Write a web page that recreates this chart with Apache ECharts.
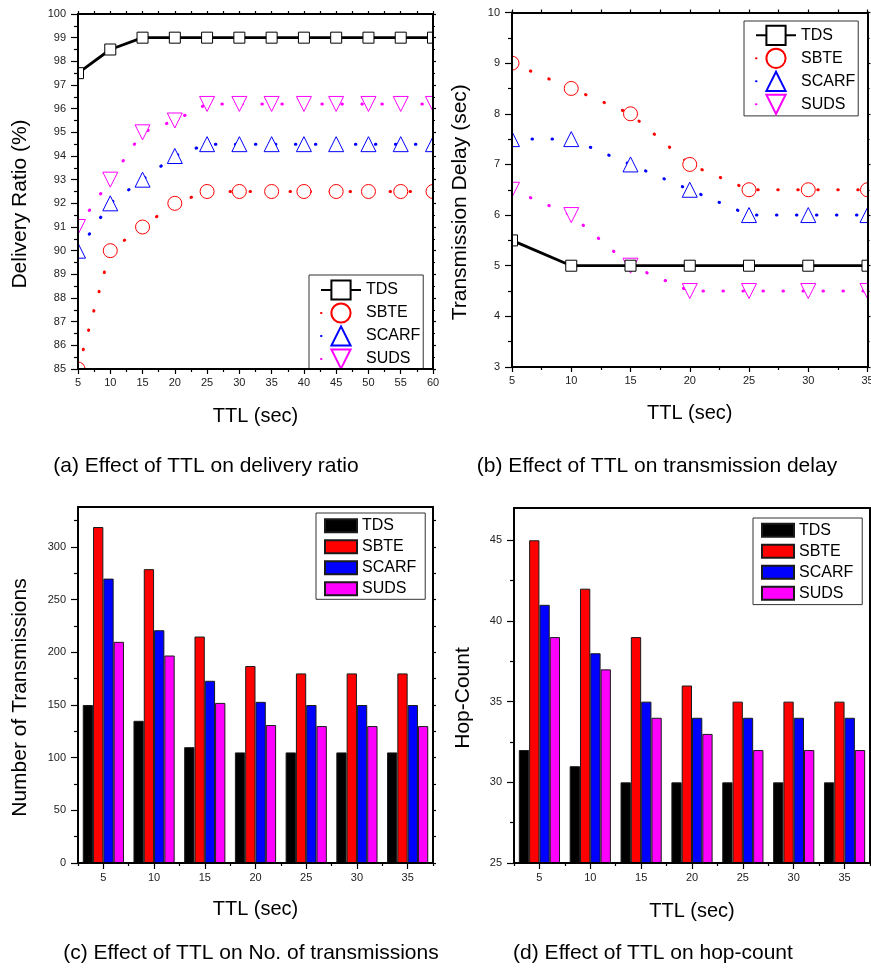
<!DOCTYPE html>
<html>
<head>
<meta charset="utf-8">
<script src="https://cdn.jsdelivr.net/npm/echarts@6/dist/echarts.min.js"></script>
<style>
  html, body { margin: 0; padding: 0; background: #fff; }
  #chart { width: 871px; height: 978px; }
</style>
</head>
<body>
<div id="chart"></div>
<script>
// Schemes compared in every panel
const schemeNames = ['TDS', 'SBTE', 'SCARF', 'SUDS'];
const schemeColors = ['#000000', '#ff0000', '#0000ff', '#ff00ff'];

// (a) delivery ratio (%) against TTL
const ttlA = [5, 10, 15, 20, 25, 30, 35, 40, 45, 50, 55, 60];
const ratioTDS = [97.5, 98.5, 99, 99, 99, 99, 99, 99, 99, 99, 99, 99];
const ratioSBTE = [85, 90, 91, 92, 92.5, 92.5, 92.5, 92.5, 92.5, 92.5, 92.5, 92.5];
const ratioSCARF = [90, 92, 93, 94, 94.5, 94.5, 94.5, 94.5, 94.5, 94.5, 94.5, 94.5];
const ratioSUDS = [91, 93, 95, 95.5, 96.2, 96.2, 96.2, 96.2, 96.2, 96.2, 96.2, 96.2];
const ratioAxis = [85, 100, 1];
const ttlAxisA = [5, 60, 5];

// (b) transmission delay (sec) against TTL
const ttlB = [5, 10, 15, 20, 25, 30, 35];
const delayTDS = [5.5, 5, 5, 5, 5, 5, 5];
const delaySBTE = [9, 8.5, 8, 7, 6.5, 6.5, 6.5];
const delaySCARF = [7.5, 7.5, 7, 6.5, 6, 6, 6];
const delaySUDS = [6.5, 6, 5, 4.5, 4.5, 4.5, 4.5];
const delayAxis = [3, 10, 1];
const ttlAxisB = [5, 35, 5];

// (c) number of transmissions per TTL
const ttlCategories = ['5', '10', '15', '20', '25', '30', '35'];
const txTDS = [150, 135, 110, 105, 105, 105, 105];
const txSBTE = [319, 279, 215, 187, 180, 180, 180];
const txSCARF = [270, 221, 173, 153, 150, 150, 150];
const txSUDS = [210, 197, 152, 131, 130, 130, 130];
const txTicks = [0, 50, 100, 150, 200, 250, 300];
const txMinorTicks = [25, 75, 125, 175, 225, 275, 325];
const txMax = 338;

// (d) hop-count per TTL
const hopTDS = [32, 31, 30, 30, 30, 30, 30];
const hopSBTE = [45, 42, 39, 36, 35, 35, 35];
const hopSCARF = [41, 38, 35, 34, 34, 34, 34];
const hopSUDS = [39, 37, 34, 33, 32, 32, 32];
const hopTicks = [25, 30, 35, 40, 45];
const hopMinorTicks = [27.5, 32.5, 37.5, 42.5];
const hopMax = 47;

const captions = [
  '(a) Effect of TTL on delivery ratio',
  '(b) Effect of TTL on transmission delay',
  '(c) Effect of TTL on No. of transmissions',
  '(d) Effect of TTL on hop-count'
];

const FONT = '"Liberation Sans", Arial, Helvetica, sans-serif';
const INK = '#000000';
const LABEL = '#222222';
const AXIS_Z = 20;

const gridBoxes = [
  { left: 78, top: 14, width: 355, height: 355 },
  { left: 512, top: 12.5, width: 355.5, height: 354.5 },
  { left: 78, top: 507, width: 355, height: 356 },
  { left: 514, top: 508, width: 356, height: 355 }
];
const grids = gridBoxes.map(g => Object.assign({ containLabel: false, outerBoundsMode: 'none' }, g));

const tickStyle = { color: INK, width: 1.2 };
const lineAxis = { show: true, onZero: false, lineStyle: { color: INK, width: 2 } };
const nameStyle = { fontSize: 20, color: INK, fontFamily: FONT };
const yNameStyle = { fontSize: 21, color: INK, fontFamily: FONT, padding: [0, 25, 0, 0] };
const tickLabel = { fontSize: 11, color: LABEL, fontFamily: FONT };

// value x axis for the TTL line panels (bottom one carries labels, top one mirrors ticks)
function ttlValueAxis(gridIndex, rng, bottom, nameGap) {
  return {
    type: 'value', gridIndex, position: bottom ? 'bottom' : 'top', z: AXIS_Z,
    min: rng[0], max: rng[1], interval: rng[2],
    axisLine: lineAxis,
    axisTick: { show: true, inside: false, length: bottom ? 5 : 3, lineStyle: tickStyle },
    minorTick: { show: true, splitNumber: 2, length: 3, lineStyle: tickStyle },
    axisLabel: Object.assign({ show: bottom, margin: 8 }, tickLabel),
    splitLine: { show: false }, minorSplitLine: { show: false },
    name: bottom ? 'TTL (sec)' : '', nameLocation: 'middle', nameGap,
    nameTextStyle: nameStyle
  };
}

// value y axis for the line panels (left carries labels, right mirrors ticks)
function lineValueY(gridIndex, rng, left, name, nameGap) {
  return {
    type: 'value', gridIndex, position: left ? 'left' : 'right', z: AXIS_Z,
    min: rng[0], max: rng[1], interval: rng[2],
    axisLine: lineAxis,
    axisTick: { show: true, inside: false, length: left ? 7 : 3, lineStyle: tickStyle },
    minorTick: { show: true, splitNumber: 2, length: left ? 4 : 2, lineStyle: tickStyle },
    axisLabel: Object.assign({ show: left, margin: 12 }, tickLabel),
    splitLine: { show: false }, minorSplitLine: { show: false },
    name: left ? name : '', nameLocation: 'middle', nameGap,
    nameTextStyle: yNameStyle
  };
}

// category axes for the bar panels
function categoryAxes(gridIndex, nameGap) {
  return [
    {
      type: 'category', gridIndex, position: 'bottom', data: ttlCategories, z: AXIS_Z,
      axisLine: lineAxis,
      axisTick: { show: true, alignWithLabel: true, interval: 0, length: 6, lineStyle: tickStyle },
      axisLabel: Object.assign({ show: true, margin: 9, interval: 0 }, tickLabel),
      splitLine: { show: false },
      name: 'TTL (sec)', nameLocation: 'middle', nameGap, nameTextStyle: nameStyle
    },
    {
      type: 'category', gridIndex, position: 'bottom', data: ttlCategories, z: AXIS_Z,
      axisLine: { show: false },
      axisTick: { show: true, interval: 0, length: 3, lineStyle: tickStyle },
      axisLabel: { show: false }, splitLine: { show: false }
    },
    {
      type: 'category', gridIndex, position: 'top', data: ttlCategories, z: AXIS_Z,
      axisLine: lineAxis, axisTick: { show: false },
      axisLabel: { show: false }, splitLine: { show: false }
    }
  ];
}

function barValueAxes(gridIndex, min, max, ticks, minorTicks, name, nameGap) {
  const allTicks = ticks.concat(minorTicks).filter(v => v <= max);
  const minorInRange = minorTicks.filter(v => v <= max);
  return [
    {
      type: 'value', gridIndex, position: 'left', min, max, z: AXIS_Z,
      axisLine: lineAxis,
      axisTick: { show: true, length: 7, customValues: ticks, lineStyle: tickStyle },
      axisLabel: Object.assign({ show: true, margin: 12, customValues: ticks }, tickLabel),
      splitLine: { show: false },
      name, nameLocation: 'middle', nameGap, nameTextStyle: yNameStyle
    },
    {
      type: 'value', gridIndex, position: 'left', min, max, z: AXIS_Z,
      axisLine: { show: false },
      axisTick: { show: true, length: 4, customValues: minorInRange, lineStyle: tickStyle },
      axisLabel: { show: false }, splitLine: { show: false }
    },
    {
      type: 'value', gridIndex, position: 'right', min, max, z: AXIS_Z,
      axisLine: lineAxis,
      axisTick: { show: true, length: 3, customValues: allTicks, lineStyle: tickStyle },
      axisLabel: { show: false }, splitLine: { show: false }
    }
  ];
}

const xAxes = [
  ttlValueAxis(0, ttlAxisA, true, 37), ttlValueAxis(0, ttlAxisA, false, 0),
  ttlValueAxis(1, ttlAxisB, true, 36), ttlValueAxis(1, ttlAxisB, false, 0),
  ...categoryAxes(2, 36),
  ...categoryAxes(3, 38)
];
const yAxes = [
  lineValueY(0, ratioAxis, true, 'Delivery Ratio (%)', 47), lineValueY(0, ratioAxis, false, '', 0),
  lineValueY(1, delayAxis, true, 'Transmission Delay (sec)', 41), lineValueY(1, delayAxis, false, '', 0),
  ...barValueAxes(2, 0, txMax, txTicks, txMinorTicks, 'Number of Transmissions', 47),
  ...barValueAxes(3, 25, hopMax, hopTicks, hopMinorTicks, 'Hop-Count', 40)
];

// marker + line look for each scheme in the line panels
const markerLook = [
  { symbol: 'rect', size: 11, rotate: 0 },
  { symbol: 'circle', size: 14, rotate: 0 },
  { symbol: 'triangle', size: 15, rotate: 0 },
  { symbol: 'triangle', size: 15, rotate: 180 }
];

function lineSeries(prefix, idx, xs, ys, xAxisIndex, yAxisIndex) {
  const solid = idx === 0;
  return {
    type: 'line', name: prefix + ':' + schemeNames[idx],
    xAxisIndex, yAxisIndex,
    data: xs.map((x, i) => [x, ys[i]]),
    symbol: markerLook[idx].symbol, symbolSize: markerLook[idx].size,
    symbolRotate: markerLook[idx].rotate, showSymbol: true, showAllSymbol: true,
    itemStyle: { color: '#ffffff', borderColor: schemeColors[idx], borderWidth: 1 },
    lineStyle: solid
      ? { color: schemeColors[idx], width: 2.8, type: 'solid' }
      : { color: schemeColors[idx], width: 3, type: [0.5, 19.5], cap: 'round' },
    emphasis: { disabled: true }, silent: true, z: 3 + (3 - idx)
  };
}

function barSeries(prefix, idx, values, xAxisIndex, yAxisIndex) {
  return {
    type: 'bar', name: prefix + ':' + schemeNames[idx],
    xAxisIndex, yAxisIndex, data: values,
    barWidth: 10.3, barGap: '0%',
    itemStyle: { color: schemeColors[idx], borderColor: '#1a1a1a', borderWidth: 1 },
    emphasis: { disabled: true }, silent: true
  };
}

const series = [
  lineSeries('a', 0, ttlA, ratioTDS, 0, 0),
  lineSeries('a', 1, ttlA, ratioSBTE, 0, 0),
  lineSeries('a', 2, ttlA, ratioSCARF, 0, 0),
  lineSeries('a', 3, ttlA, ratioSUDS, 0, 0),
  lineSeries('b', 0, ttlB, delayTDS, 2, 2),
  lineSeries('b', 1, ttlB, delaySBTE, 2, 2),
  lineSeries('b', 2, ttlB, delaySCARF, 2, 2),
  lineSeries('b', 3, ttlB, delaySUDS, 2, 2),
  barSeries('c', 0, txTDS, 4, 4),
  barSeries('c', 1, txSBTE, 4, 4),
  barSeries('c', 2, txSCARF, 4, 4),
  barSeries('c', 3, txSUDS, 4, 4),
  barSeries('d', 0, hopTDS, 7, 7),
  barSeries('d', 1, hopSBTE, 7, 7),
  barSeries('d', 2, hopSCARF, 7, 7),
  barSeries('d', 3, hopSUDS, 7, 7)
];

function legendBox(prefix, left, top, isBar, padding) {
  const base = {
    show: true, orient: 'vertical', left, top, padding,
    data: schemeNames.map(n => prefix + ':' + n),
    formatter: name => name.split(':')[1],
    backgroundColor: '#ffffff', borderColor: '#333333', borderWidth: 1,
    selectedMode: false,
    textStyle: { fontSize: 16, lineHeight: 16, color: INK, fontFamily: FONT }
  };
  if (isBar) {
    return Object.assign(base, { icon: 'rect', itemWidth: 32, itemHeight: 13, itemGap: 5 });
  }
  return Object.assign(base, { itemWidth: 40, itemHeight: 24, itemGap: 1.8 });
}

// white bands just outside the two line-plot frames, so markers sitting on the
// frame are cut at the frame edge; axes are drawn above them
function edgeMasks(box) {
  const l = box.left, t = box.top, r = box.left + box.width, b = box.top + box.height;
  const pad = 14;
  return [
    [l - pad, t - pad, pad, box.height + 2 * pad],
    [r, t - pad, pad, box.height + 2 * pad],
    [l - pad, t - pad, box.width + 2 * pad, pad],
    [l - pad, b, box.width + 2 * pad, pad]
  ].map(([x, y, w, h]) => ({
    type: 'rect', silent: true, z: 10,
    shape: { x, y, width: w, height: h },
    style: { fill: '#ffffff' }
  }));
}

const captionPlaces = [[206, 466], [657, 466], [251, 953], [653, 953]];

const option = {
  animation: false,
  backgroundColor: '#ffffff',
  textStyle: { fontFamily: FONT },
  grid: grids,
  xAxis: xAxes,
  yAxis: yAxes,
  legend: [
    legendBox('a', 309, 275, false, [4.4, 3, 2.4, 11]),
    legendBox('b', 744, 21, false, [3.7, 3, 1, 11]),
    legendBox('c', 316, 513, true, [4.7, 9, 2.6, 8]),
    legendBox('d', 753, 518, true, [4.3, 9, 3.3, 8])
  ],
  series,
  graphic: [
    ...edgeMasks(gridBoxes[0]),
    ...edgeMasks(gridBoxes[1]),
    ...captions.map((t, i) => ({
      type: 'text', x: captionPlaces[i][0], y: captionPlaces[i][1], silent: true, z: 10,
      style: {
        text: t, fill: INK, fontSize: 21, fontFamily: FONT,
        align: 'center', verticalAlign: 'middle'
      }
    }))
  ]
};

const chart = echarts.init(document.getElementById('chart'), null, { renderer: 'canvas' });
chart.setOption(option);
</script>
</body>
</html>
